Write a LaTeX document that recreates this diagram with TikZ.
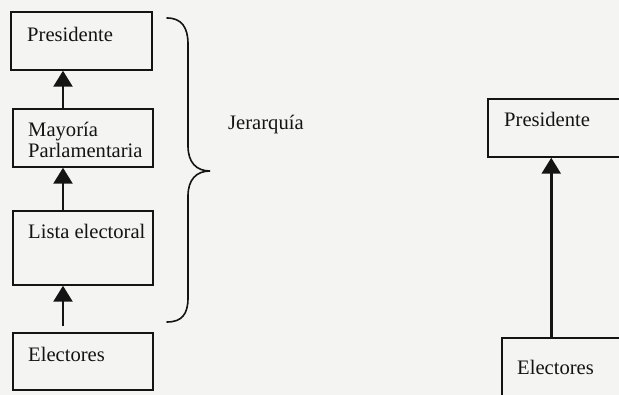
\documentclass[tikz,border=0pt]{standalone}
\usepackage{fontspec}
\setmainfont{Liberation Serif}
\usetikzlibrary{arrows.meta}
\definecolor{paper}{RGB}{244,244,243}
\definecolor{ink}{RGB}{20,20,20}
\tikzset{
  box/.style={draw=ink, line width=1.5pt, rectangle, inner sep=0pt},
  lbl/.style={anchor=base west, inner sep=0pt, text=ink, font=\fontsize{20.6}{21}\selectfont},
  uparrow/.style={draw=ink, line width=2.6pt, -{Triangle[length=16pt,width=19pt]}},
  bracepath/.style={draw=ink, line width=1.6pt, line cap=round}
}
\begin{document}
\begin{tikzpicture}[x=1pt,y=-1pt]
\useasboundingbox (0,0) rectangle (619,395);
\fill[paper] (0,0) rectangle (619,395);
\clip (0,0) rectangle (619,395);
% left column boxes
\node[box, minimum width=141pt, minimum height=58pt] (presL) at (81.5,41) {};
\node[box, minimum width=140pt, minimum height=58pt] (may) at (83,138) {};
\node[box, minimum width=140pt, minimum height=74pt] (lista) at (83,248) {};
\node[box, minimum width=140pt, minimum height=57pt] (elecL) at (83,361.5) {};
% labels
\node[lbl] (tPresL) at (27,41.5) {Presidente};
\node[lbl] (tMay1) at (28,137) {Mayoría};
\node[lbl] (tMay2) at (28,158) {Parlamentaria};
\node[lbl] (tLista) at (28,239) {Lista electoral};
\node[lbl] (tElecL) at (28,362) {Electores};
\node[lbl] (tJer) at (228,130) {Jerarquía};
% right column boxes
\node[box, minimum width=150pt, minimum height=58pt] (presR) at (563,128) {};
\node[box, minimum width=150pt, minimum height=70pt] (elecR) at (577,373) {};
\node[lbl] (tPresR) at (504,127) {Presidente};
\node[lbl] (tElecR) at (517,375) {Electores};
% arrows
\draw[uparrow] ([xshift=-20pt]may.north) -- ([xshift=-18.5pt]presL.south);
\draw[uparrow] ([xshift=-20pt]lista.north) -- ([xshift=-20pt]may.south);
\draw[uparrow, shorten <=6pt] ([xshift=-20pt]elecL.north) -- ([xshift=-20pt]lista.south);
\draw[uparrow] ([xshift=50pt]elecR.north west) -- ([xshift=64pt]presR.south west);
% brace
\draw[bracepath] (167,18) .. controls (182,18) and (188,28) .. (188,44)
  -- (188,146) .. controls (188,162) and (196,171) .. (210,171)
  .. controls (196,171) and (188,180) .. (188,196)
  -- (188,298) .. controls (188,314) and (182,322) .. (167,322);
\end{tikzpicture}
\end{document}
